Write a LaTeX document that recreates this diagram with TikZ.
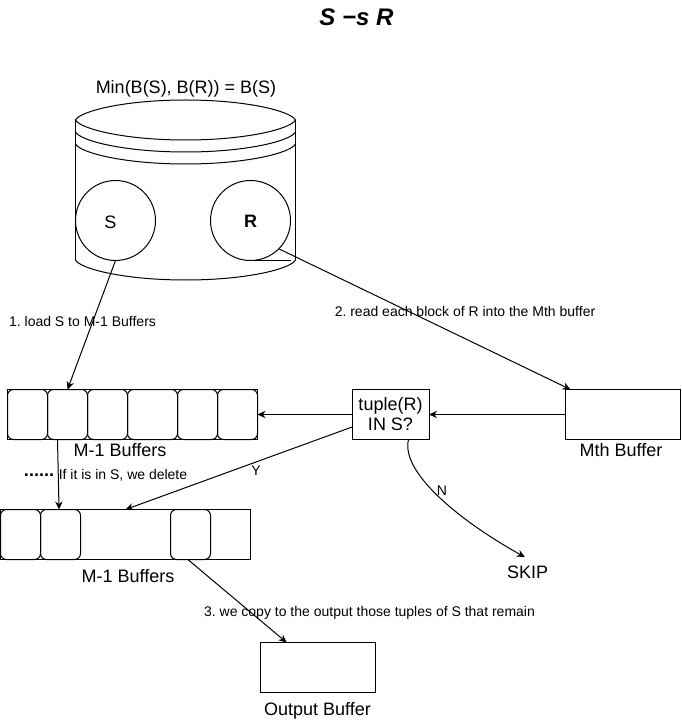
\documentclass[tikz,border=0pt]{standalone}
\usepackage{fontspec}
\setmainfont{Liberation Sans}
\usetikzlibrary{arrows.meta,positioning}

\begin{document}
\frenchspacing
\begin{tikzpicture}[
      x=0.75pt, y=-0.75pt, line width=0.75pt,
      cell/.style={draw, rounded corners=4.5pt, minimum width=30pt,
                  minimum height=37.5pt, inner sep=0pt, outer sep=0pt},
      widecell/.style={cell, minimum width=37.5pt},
      bufrow/.style={draw, minimum width=187.5pt, minimum height=37.5pt,
                  inner sep=0pt, outer sep=0pt},
      bufbox/.style={draw, minimum width=86.25pt, minimum height=37.5pt,
                  inner sep=0pt, outer sep=0pt},
      disk/.style={draw, circle, minimum size=60pt, inner sep=0pt, outer sep=0pt},
      big/.style={font=\fontsize{13.5}{15}\selectfont, align=center, inner sep=0pt},
      small/.style={font=\fontsize{10.5}{12}\selectfont, inner sep=0pt},
      arr/.style={-{Stealth[length=6pt,width=5.5pt]}}
  ]
    \useasboundingbox (0,0) rectangle (681,723);
    \node[font=\fontsize{18}{20}\bfseries\itshape\selectfont, inner sep=0pt] (title) at (356.5,17) {S −s R};
    % cylinder
    \node[big] (minlabel) at (186,88.5) {Min(B(S), B(R)) = B(S)};
    \draw (75.5,120) .. controls +(5,-9) and +(-60.8,0) .. (185.5,100)
          .. controls +(60.8,0) and +(-5,-9) .. (295.5,120);
    \foreach \h in {120,132,144,260}
      \draw (75.5,\h) .. controls +(5,9) and +(-60.8,0) .. ++(110,20)
            .. controls +(60.8,0) and +(-5,9) .. ++(110,-20);
    \draw (75.5,120) -- (75.5,260);
    \draw (295.5,120) -- (295.5,260);
    \node[disk] (s) at (115.5,220.5) {};
    \node[disk] (r) at (250.5,220.5) {};
    \node[big, font=\fontsize{13.5}{15}\selectfont] (stext) at (110.5,222) {S};
    \node[big, font=\fontsize{13.5}{15}\bfseries\selectfont] (rtext) at (250.5,221.5) {R};
    \coordinate (rfoot) at (290.5,260.5);
    \draw (r.south) -- (rfoot);
    % first row
    \node[bufrow] (row1) at (132.5,414.5) {};
    \node[cell, anchor=west] (a1) at (row1.west) {};
    \node[cell, right=0pt of a1] (a2) {};
    \node[cell, right=0pt of a2] (a3) {};
    \node[widecell, right=0pt of a3] (a4) {};
    \node[cell, right=0pt of a4] (a5) {};
    \node[cell, right=0pt of a5] (a6) {};
    \node[big] (row1label) at (120,450) {M-1 Buffers};
    % second row
    \node[bufrow] (row2) at (125.5,534.5) {};
    \node[cell, anchor=west] (b1) at (row2.west) {};
    \node[cell, right=0pt of b1] (b2) {};
    \node[cell] (b3) at (190.5,534.5) {};
    \node[big] (row2label) at (128,576) {M-1 Buffers};
    % the other boxes
    \node[draw, big, minimum width=57.75pt, minimum height=37.5pt, outer sep=0pt] (tuple) at (390.5,414.5) {tuple(R)\\IN S?};
    \node[bufbox] (mth) at (623,414.5) {};
    \node[big] (mthlabel) at (621,450) {Mth Buffer};
    \node[bufbox] (output) at (317.5,667.5) {};
    \node[big] (outputlabel) at (317.5,711) {Output Buffer};
    \node[big] (skip) at (527.5,572) {SKIP};
    % arrows
    \draw[arr] (s.south) -- (a2.north);
    \draw[arr] (r.-45) -- ([xshift=3.75pt]mth.north west);
    \draw[arr] (mth.west) -- (tuple.east);
    \draw[arr] (tuple.west) -- (row1.east);
    \draw[arr] ([yshift=-9.4pt]tuple.west) -- (row2.north);
    \draw[arr] ([xshift=7.5pt]a2.south west) -- ([xshift=13.9pt]b2.north west);
    \draw[arr] ([xshift=13.5pt]tuple.south) .. controls +(-8,32) and +(-68,-38) .. ([xshift=-2pt,yshift=6pt]skip.north);
    \draw[arr] ([xshift=-17pt]b3.south east) -- ([xshift=20pt]output.north west);
    % labels
    \node[small] (load) at (82.5,321) {1. load S to M-1 Buffers};
    \node[small] (read) at (465,311) {2. read each block of R into the Mth buffer};
    \node[small] (copy) at (369.5,612.5) {3. we copy to the output those tuples of S that remain};
    \node[small] (del) at (123,475) {If it is in S, we delete};
    \node[big, font=\fontsize{13.5}{15}\bfseries\selectfont] (dots) at (39,475) {......};
    \node[small] (yes) at (256,471) {Y};
    \node[small] (no) at (442,491) {N};
  \end{tikzpicture}
\end{document}
